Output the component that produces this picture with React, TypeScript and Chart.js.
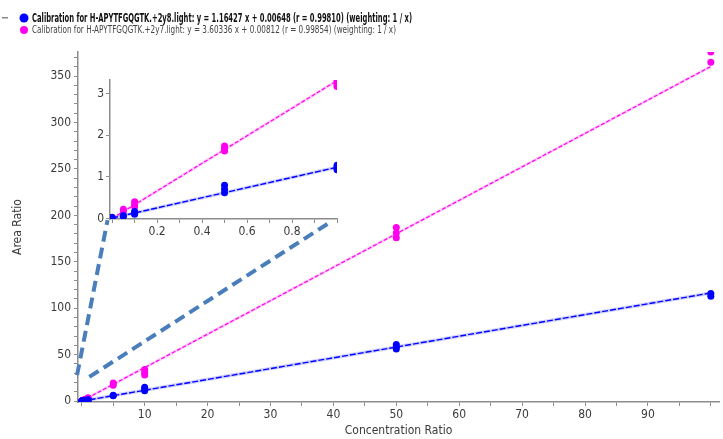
import { useEffect, useRef } from "react";
import { Chart, registerables } from "chart.js";

Chart.register(...registerables);

const FONT_FAMILY =
  "'Liberation Sans Narrow', 'DejaVu Sans Condensed', 'Liberation Sans', Arial, sans-serif";

// ---------------- data ----------------
const concentrationLevels = [0, 0.05, 0.1, 0.5, 1, 5, 10, 50, 100];
// replicate area ratios, transition +2y8 (blue)
const y8Replicates = [
  [0.01, 0.03],
  [0.05, 0.07],
  [0.1, 0.13, 0.17],
  [0.62, 0.7, 0.8],
  [1.17, 1.22, 1.28],
  [5.6, 6.4],
  [11, 13, 15],
  [56, 58, 61],
  [113, 116],
];
// replicate area ratios, transition +2y7 (magenta)
const y7Replicates = [
  [0.01],
  [0.17, 0.22],
  [0.28, 0.33, 0.4],
  [1.62, 1.68, 1.74],
  [3.17, 3.22, 3.3],
  [17, 19.5],
  [28, 31, 34],
  [176, 181, 187],
  [365, 376],
];
// regression lines (end points)
const fitX = [0, 100];
const y8Fit = [0.00648, 116.43348];
const y7Fit = [0.00812, 360.34412];
const insetFitX = [0, 1];
const y8InsetFit = [0.01, 1.23];
const y7InsetFit = [0.0, 3.31];

const legendTexts = [
  "Calibration for H-APYTFGQGTK.+2y8.light: y = 1.16427 x + 0.00648 (r = 0.99810) (weighting: 1 / x)",
  "Calibration for H-APYTFGQGTK.+2y7.light: y = 3.60336 x + 0.00812 (r = 0.99854) (weighting: 1 / x)",
];

// ticks
const mainXTickValues = [0, 5, 10, 15, 20, 25, 30, 35, 40, 45, 50, 55, 60, 65, 70, 75, 80, 85, 90, 95, 100];
const mainXTickLabels = [10, 20, 30, 40, 50, 60, 70, 80, 90];
const mainYTickValues = [
  0, 10, 20, 30, 40, 50, 60, 70, 80, 90, 100, 110, 120, 130, 140, 150, 160, 170, 180, 190, 200,
  210, 220, 230, 240, 250, 260, 270, 280, 290, 300, 310, 320, 330, 340, 350, 360, 370,
];
const mainYTickLabels = [0, 50, 100, 150, 200, 250, 300, 350];
const insetXTickValues = [0, 0.1, 0.2, 0.3, 0.4, 0.5, 0.6, 0.7, 0.8, 0.9, 1.0];
const insetXTickLabels = [0.2, 0.4, 0.6, 0.8];
const insetYTickValues = [0, 1, 2, 3];
const insetYTickLabels = [0, 1, 2, 3];

// callout (zoom) lines, in main-chart data coordinates
const calloutLines = [
  { from: [-0.75, 28], to: [4.1, 195] },
  { from: [1.2, 26], to: [39.8, 194] },
];

// ---------------- styles ----------------
const BLUE = "#0000ff";
const MAGENTA = "#ff00ee";
const BLUE_HALO = "rgba(90,90,255,0.28)";
const MAGENTA_HALO = "rgba(255,80,230,0.28)";
const AXIS_COLOR = "#8c8c8c";
const TEXT_COLOR = "#3a3a3a";

function replicatePoints(levels: number[], reps: number[][], maxLevel: number) {
  return levels.flatMap((c, i) => (c <= maxLevel ? reps[i].map((v) => ({ x: c, y: v })) : []));
}
function linePoints(xs: number[], ys: number[]) {
  return xs.map((x, i) => ({ x, y: ys[i] }));
}

function buildDatasets(maxLevel: number, fx: number[], f8: number[], f7: number[], radius: number) {
  return [
    {
      label: "y8 points",
      data: replicatePoints(concentrationLevels, y8Replicates, maxLevel),
      backgroundColor: BLUE,
      borderColor: BLUE,
      pointRadius: radius,
      pointBorderWidth: 0,
      showLine: false,
      order: 0,
    },
    {
      label: "y7 points",
      data: replicatePoints(concentrationLevels, y7Replicates, maxLevel),
      backgroundColor: MAGENTA,
      borderColor: MAGENTA,
      pointRadius: radius,
      pointBorderWidth: 0,
      showLine: false,
      order: 0,
    },
    {
      label: "y8 fit",
      data: linePoints(fx, f8),
      borderColor: BLUE,
      borderWidth: 1.4,
      borderDash: [6, 2],
      pointRadius: 0,
      showLine: true,
      order: 1,
    },
    {
      label: "y7 fit",
      data: linePoints(fx, f7),
      borderColor: MAGENTA,
      borderWidth: 1.2,
      borderDash: [4, 2],
      pointRadius: 0,
      showLine: true,
      order: 1,
    },
    {
      label: "y8 halo",
      data: linePoints(fx, f8),
      borderColor: BLUE_HALO,
      borderWidth: 3.5,
      pointRadius: 0,
      showLine: true,
      order: 2,
    },
    {
      label: "y7 halo",
      data: linePoints(fx, f7),
      borderColor: MAGENTA_HALO,
      borderWidth: 3,
      pointRadius: 0,
      showLine: true,
      order: 2,
    },
  ];
}

function axis(opts: {
  min: number;
  max: number;
  tickValues: number[];
  tickLabels: number[];
  size: number;
  horizontal: boolean;
  fontSize: number;
  padding: number;
  title?: any;
}) {
  return {
    type: "linear",
    min: opts.min,
    max: opts.max,
    afterBuildTicks: (s: any) => {
      s.ticks = opts.tickValues.map((v) => ({ value: v }));
    },
    afterFit: (s: any) => {
      if (opts.horizontal) s.height = opts.size;
      else s.width = opts.size;
    },
    ticks: {
      autoSkip: false,
      maxRotation: 0,
      padding: opts.padding,
      color: TEXT_COLOR,
      font: { family: FONT_FAMILY, size: opts.fontSize },
      callback: (v: number) => (opts.tickLabels.includes(v) ? String(v) : ""),
    },
    grid: {
      drawOnChartArea: false,
      tickLength: 4,
      tickColor: AXIS_COLOR,
      tickWidth: 1,
    },
    border: { color: AXIS_COLOR, width: 1.5 },
    title: opts.title ?? { display: false },
  };
}

const legendPlugin = {
  id: "calibrationLegend",
  afterDraw(chart: any) {
    const ctx = chart.ctx;
    ctx.save();
    ctx.textBaseline = "middle";
    // collapse glyph
    ctx.fillStyle = "#888";
    ctx.fillRect(2, 17, 6, 1.5);
    const rows = [
      { text: legendTexts[0], color: BLUE, y: 18, font: `bold 12px ${FONT_FAMILY}`, width: 380, fill: "#111", r: 4.5 },
      { text: legendTexts[1], color: MAGENTA, y: 30, font: `10px ${FONT_FAMILY}`, width: 364, fill: "#444", r: 4 },
    ];
    rows.forEach((row) => {
      ctx.beginPath();
      ctx.arc(24, row.y, row.r, 0, Math.PI * 2);
      ctx.fillStyle = row.color;
      ctx.fill();
      ctx.font = row.font;
      ctx.fillStyle = row.fill;
      ctx.fillText(row.text, 32, row.y + 0.5, row.width);
    });
    ctx.restore();
  },
};

const calloutPlugin = {
  id: "calloutLines",
  afterDatasetsDraw(chart: any) {
    const ctx = chart.ctx;
    const xs = chart.scales.x;
    const ys = chart.scales.y;
    ctx.save();
    ctx.strokeStyle = "#4a7ebb";
    ctx.lineWidth = 4;
    ctx.setLineDash([11, 6]);
    calloutLines.forEach((l) => {
      ctx.beginPath();
      ctx.moveTo(xs.getPixelForValue(l.from[0]), ys.getPixelForValue(l.from[1]));
      ctx.lineTo(xs.getPixelForValue(l.to[0]), ys.getPixelForValue(l.to[1]));
      ctx.stroke();
    });
    ctx.restore();
  },
};

export default function App() {
  const mainRef = useRef<HTMLCanvasElement | null>(null);
  const insetRef = useRef<HTMLCanvasElement | null>(null);

  useEffect(() => {
    if (!mainRef.current || !insetRef.current) return;
    const main = new Chart(mainRef.current, {
      type: "scatter",
      data: { datasets: buildDatasets(1000, fitX, y8Fit, y7Fit, 3.5) as any },
      options: {
        animation: false,
        responsive: false,
        events: [],
        layout: { padding: { top: 52, right: 1, left: 0, bottom: 0 } },
        plugins: { legend: { display: false }, tooltip: { enabled: false } },
        scales: {
          x: axis({
            min: -0.6,
            max: 101.3,
            tickValues: mainXTickValues,
            tickLabels: mainXTickLabels,
            size: 37,
            horizontal: true,
            fontSize: 12,
            padding: 2,
            title: {
              display: true,
              text: "Concentration Ratio",
              color: TEXT_COLOR,
              font: { family: FONT_FAMILY, size: 12 },
              padding: { top: 0, bottom: 1 },
            },
          }) as any,
          y: axis({
            min: -1,
            max: 376,
            tickValues: mainYTickValues,
            tickLabels: mainYTickLabels,
            size: 78,
            horizontal: false,
            fontSize: 12,
            padding: 3,
            title: {
              display: true,
              text: "Area Ratio",
              color: TEXT_COLOR,
              font: { family: FONT_FAMILY, size: 12 },
              padding: { top: 11, bottom: 0 },
            },
          }) as any,
        },
      },
      plugins: [legendPlugin, calloutPlugin],
    });

    const inset = new Chart(insetRef.current, {
      type: "scatter",
      data: { datasets: buildDatasets(1, insetFitX, y8InsetFit, y7InsetFit, 3.5) as any },
      options: {
        animation: false,
        responsive: false,
        events: [],
        layout: { padding: { top: 20, right: 13, left: 0, bottom: 0 } },
        plugins: { legend: { display: false }, tooltip: { enabled: false } },
        scales: {
          x: axis({
            min: -0.0094,
            max: 1.0,
            tickValues: insetXTickValues,
            tickLabels: insetXTickLabels,
            size: 31,
            horizontal: true,
            fontSize: 12,
            padding: 2,
          }) as any,
          y: axis({
            min: -0.012,
            max: 3.325,
            tickValues: insetYTickValues,
            tickLabels: insetYTickLabels,
            size: 30,
            horizontal: false,
            fontSize: 12,
            padding: 2,
          }) as any,
        },
      },
    });

    return () => {
      main.destroy();
      inset.destroy();
    };
  }, []);

  return (
    <div style={{ position: "absolute", left: 0, top: 0, width: 723, height: 439, background: "#fff" }}>
      <canvas ref={mainRef} width={723} height={439} style={{ position: "absolute", left: 0, top: 0 }} />
      <canvas ref={insetRef} width={270} height={190} style={{ position: "absolute", left: 80, top: 60 }} />
    </div>
  );
}
